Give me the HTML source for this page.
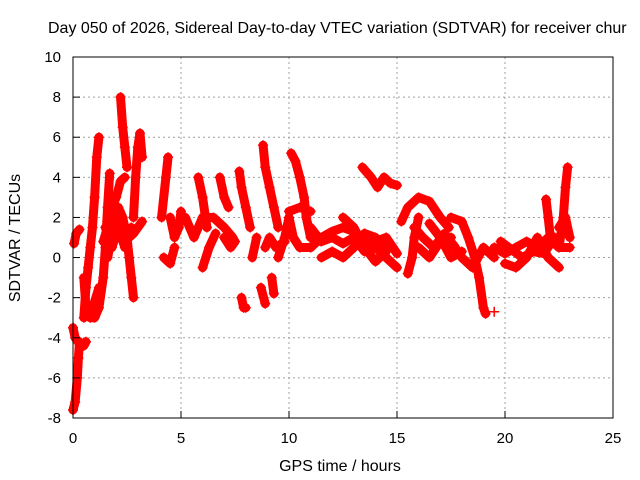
<!DOCTYPE html>
<html><head><meta charset="utf-8"><style>
body{margin:0;background:#fff;}
svg{display:block;font-family:"Liberation Sans",sans-serif;}
</style></head><body>
<svg id="chart" width="640" height="480" viewBox="0 0 640 480">
<rect width="640" height="480" fill="#fff"/>
<g id="grid"></g>
<g id="tracks"></g>
<rect x="73" y="57" width="540" height="361" fill="none" stroke="#000" stroke-width="1"/>
<g id="ticks"></g>
<text x="48" y="33" font-size="16">Day 050 of 2026, Sidereal Day-to-day VTEC variation (SDTVAR) for receiver chur</text>
<text x="340" y="471" font-size="16" text-anchor="middle">GPS time / hours</text>
<text transform="translate(20,238) rotate(-90)" font-size="16" text-anchor="middle">SDTVAR / TECUs</text>
</svg>
<script>
const xTicks=[0,5,10,15,20,25];
const yTicks=[-8,-6,-4,-2,0,2,4,6,8,10];
const tracks=[
[[0.0,-7.6],[0.1,-7.2],[0.2,-6],[0.25,-5],[0.3,-4.2]],
[[0,-3.5],[0.1,-4],[0.3,-4.3],[0.5,-4.4],[0.6,-4.2]],
[[0.05,0.7],[0.15,1.2],[0.3,1.4]],
[[0.5,-3],[0.6,-1.5],[0.7,-0.5],[0.8,0.5],[0.9,1.5],[1.0,3],[1.1,5],[1.2,6]],
[[0.5,-1],[0.6,-2.5],[0.8,-3],[1.0,-3],[1.2,-2.5],[1.4,-1],[1.5,0.5],[1.6,2.5],[1.7,4.2]],
[[0.9,-2.8],[1.0,-2.2],[1.2,-1.5]],
[[1.6,0],[1.8,1],[2.0,2],[2.1,2.5],[2.3,2],[2.5,1],[2.6,0],[2.7,-1],[2.8,-2]],
[[2.2,8],[2.3,6.5],[2.4,5.5],[2.5,4.5]],
[[2.8,2],[2.9,4],[3.0,5.5],[3.1,6.2],[3.2,5]],
[[1.4,0.8],[1.6,1.5],[1.8,2.5],[2.0,3],[2.2,3.8],[2.4,4]],
[[2.6,1],[2.8,1.2],[3.0,1.5],[3.2,1.8]],
[[1.5,1.5],[1.8,0.5],[2.1,1.5],[2.4,0.5],[2.7,1.5]],
[[4.1,2],[4.3,4],[4.4,5]],
[[4.5,2],[4.7,1],[4.9,1.5],[5.0,2.3]],
[[4.2,0],[4.5,-0.3],[4.7,0.5]],
[[5.2,2],[5.6,1],[6.0,2],[6.5,2],[7.0,1.5],[7.4,1]],
[[5.8,4],[6.0,3],[6.2,1.5]],
[[6.0,-0.5],[6.3,0.5],[6.6,1.2]],
[[6.8,4],[7.0,3],[7.2,2.5]],
[[7.0,1],[7.3,0.5],[7.5,0.8]],
[[7.7,4.3],[7.8,3.5],[8.0,2.5],[8.2,1.5]],
[[7.8,-2],[7.9,-2.5],[8.0,-2.5]],
[[8.3,0],[8.5,1]],
[[8.8,5.6],[8.9,4.5],[9.1,3.5],[9.3,2.5],[9.5,1.5]],
[[8.7,-1.5],[8.9,-2.3]],
[[9.2,-1],[9.3,-1.8]],
[[8.9,0.5],[9.1,1],[9.4,0.5],[9.8,0.8]],
[[10.1,5.2],[10.3,4.8],[10.5,4],[10.7,3],[10.8,2],[11.0,1]],
[[9.5,0],[9.8,1],[10.0,2],[10.2,1],[10.5,0.5],[11,0.5]],
[[10,2.3],[10.5,2.5],[11,2.3]],
[[11,0.5],[11.5,1],[12,1.3],[12.5,1.5],[13,1.3],[13.5,0.8],[14,0.5],[14.5,0],[15,-0.5]],
[[11.5,0],[12,0.3],[12.5,0],[13,0.5],[13.5,1.2],[14,1],[14.5,0.5]],
[[12.5,2],[13,1.5],[13.5,0.5],[14,-0.2],[14.5,0.3]],
[[11,1.5],[11.5,0.8],[12,1],[12.5,0.7],[13,1],[13.5,0.3],[14,0.8],[14.5,1],[15,0.2]],
[[13.4,4.5],[13.8,4],[14.1,3.5],[14.4,4],[14.7,3.7],[15,3.6]],
[[15.2,1.8],[15.5,2.5],[16,3],[16.5,2.8],[17,2],[17.4,1.5]],
[[15.5,-0.8],[15.7,0],[15.8,1],[16,2]],
[[16,0.5],[16.5,0],[17,0.8],[17.5,1]],
[[16.5,1.7],[17,1],[17.5,0],[18,0.3]],
[[15.8,1.5],[16.2,1],[16.7,0.5],[17.2,1.2],[17.7,0.5]],
[[17.5,2],[18,1.8],[18.3,1],[18.6,0],[18.8,-1],[19,-2.5],[19.1,-2.8]],
[[19.5,-2.7]],
[[18,0],[18.5,-0.5],[19,0.5],[19.5,0]],
[[19.5,0.5],[20,0.2],[20.5,0.5],[21,0.8],[21.5,0.5],[22,1],[22.5,0.5],[23,0.5]],
[[20,-0.3],[20.5,-0.5],[21,0],[21.5,1],[22,0],[22.5,-0.5]],
[[19.8,0.8],[20.3,0.4],[20.8,0],[21.3,0.3],[21.8,0.2],[22.3,1]],
[[21.9,2.9],[22.0,2],[22.1,1]],
[[22.5,0.5],[22.7,2],[22.8,3.5],[22.9,4.5]],
[[22.5,1.5],[22.8,2],[23,1]]
];
const NS="http://www.w3.org/2000/svg";
const X=t=>73+t*540/25;
const Y=v=>57+(10-v)*361/18;
function mk(tag,attrs,parent){const e=document.createElementNS(NS,tag);for(const k in attrs)e.setAttribute(k,attrs[k]);parent.appendChild(e);return e;}
const grid=document.getElementById('grid'),ticks=document.getElementById('ticks'),tr=document.getElementById('tracks');
xTicks.forEach(t=>{
 if(t>0&&t<25){const g=mk('line',{x1:X(t),x2:X(t),y1:57,y2:418,stroke:'#a0a0a0','stroke-dasharray':'2,3'},grid);
 
 }
 const l=mk('line',{x1:X(t),x2:X(t),y1:418,y2:411,stroke:'#000'},ticks);
 
 
 const tx=mk('text',{x:X(t),y:443,'font-size':15,'text-anchor':'middle'},ticks);
 tx.textContent=t;
 
 
});
yTicks.forEach(v=>{
 if(v>-8&&v<10){const g=mk('line',{x1:73,x2:613,y1:Y(v),y2:Y(v),stroke:'#a0a0a0','stroke-dasharray':'2,3'},grid);
 
 }
 const l=mk('line',{x1:73,x2:80,y1:Y(v),y2:Y(v),stroke:'#000'},ticks);
 
 
 const tx=mk('text',{x:61,y:Y(v)+5,'font-size':15,'text-anchor':'end'},ticks);
 tx.textContent=v;
 
 
});
tracks.forEach(tk=>{
 const g=mk('g',{},tr);
 
 
 if(tk.length>1){
  const p=mk('polyline',{points:tk.map(d=>X(d[0])+','+Y(d[1])).join(' '),fill:'none',stroke:'#f00','stroke-width':9,'stroke-linejoin':'round','stroke-linecap':'round'},g);
  
  
 }
 tk.forEach(d=>{
  const x=X(d[0]),y=Y(d[1]);
  const m=mk('path',{d:`M${x-5},${y}H${x+5}M${x},${y-5}V${y+5}`,stroke:'#f00','stroke-width':1.5},g);
  
  
 });
});
</script>
</body></html>
